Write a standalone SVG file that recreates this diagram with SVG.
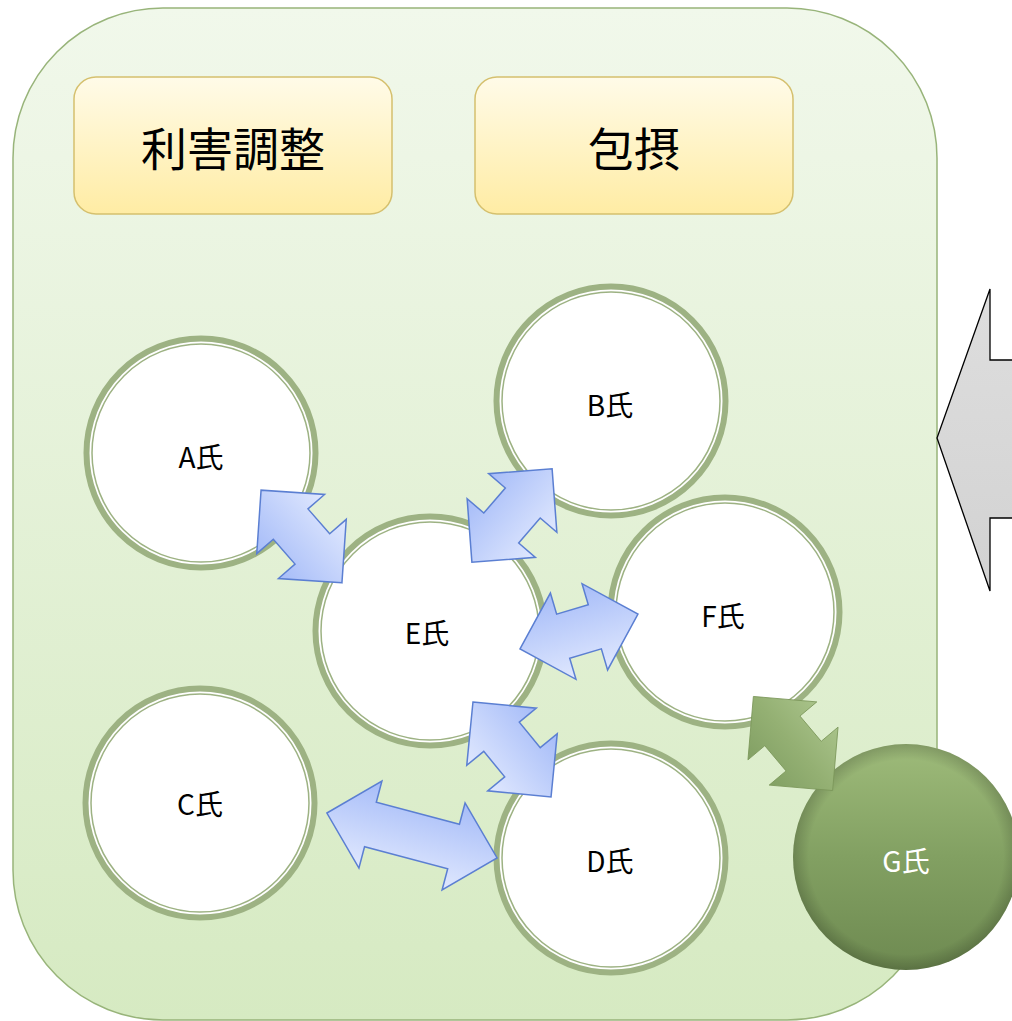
<svg xmlns="http://www.w3.org/2000/svg" width="1012" height="1021" viewBox="0 0 1012 1021">
<style>
.ring{fill:#ffffff;stroke:#9db283;stroke-width:6}
.ring2{fill:none;stroke:#9db283;stroke-width:1.5}
.lbl{font-family:"Noto Sans CJK JP","Noto Sans",sans-serif;font-size:28px;fill:#000;text-anchor:middle}
.ttl{font-family:"Noto Sans CJK JP","Noto Sans",sans-serif;font-size:46px;font-weight:normal;fill:#000;text-anchor:middle}
.box{fill:url(#gBox);stroke:#d5c06e;stroke-width:1.5}
.blue{fill:url(#gBlue);stroke:#5b7fd2;stroke-width:1.5;stroke-linejoin:miter}
</style>
<defs>
<linearGradient id="gBg" x1="0" y1="0" x2="0" y2="1">
<stop offset="0" stop-color="#f1f8eb"/>
<stop offset="1" stop-color="#d6eac2"/>
</linearGradient>
<linearGradient id="gBox" x1="0" y1="0" x2="0" y2="1">
<stop offset="0" stop-color="#fffbe8"/>
<stop offset="1" stop-color="#ffeca4"/>
</linearGradient>
<linearGradient id="gBlue" x1="0" y1="0" x2="0" y2="1">
<stop offset="0" stop-color="#a6bcf8"/>
<stop offset="1" stop-color="#e0e8fe"/>
</linearGradient>
<linearGradient id="gGreenArrow" x1="0" y1="0" x2="0" y2="1">
<stop offset="0" stop-color="#a8c289"/>
<stop offset="0.5" stop-color="#94b073"/>
<stop offset="1" stop-color="#82a064"/>
</linearGradient>
<linearGradient id="gG" x1="0" y1="0" x2="0" y2="1">
<stop offset="0" stop-color="#9ebb7a"/>
<stop offset="0.5" stop-color="#82a062"/>
<stop offset="1" stop-color="#6e8a51"/>
</linearGradient>
<radialGradient id="gGedge" cx="0.5" cy="0.5" r="0.5">
<stop offset="0.86" stop-color="#000" stop-opacity="0"/>
<stop offset="1" stop-color="#000" stop-opacity="0.18"/>
</radialGradient>
<linearGradient id="gGray" x1="0" y1="0" x2="0" y2="1">
<stop offset="0" stop-color="#dedede"/>
<stop offset="1" stop-color="#d2d2d2"/>
</linearGradient>
<polygon id="dbl" points="-61.5,0 -16.5,-45 -16.5,-23 16.5,-23 16.5,-45 61.5,0 16.5,45 16.5,23 -16.5,23 -16.5,45"/>
<polygon id="dblLong" points="-88,0 -43,-45 -43,-23 43,-23 43,-45 88,0 43,45 43,23 -43,23 -43,45"/>
</defs>

<g id="background">
<rect x="13" y="8" width="924" height="1012" rx="150" ry="150" fill="url(#gBg)" stroke="#98b47a" stroke-width="1.5"/>
</g>

<g id="title-rigai">
<rect class="box" x="74" y="77" width="318" height="137" rx="22" ry="22"/>
<text class="ttl" x="233" y="166">利害調整</text>
</g>
<g id="title-housetsu">
<rect class="box" x="475" y="77" width="318" height="137" rx="22" ry="22"/>
<text class="ttl" x="634" y="166">包摂</text>
</g>

<g id="big-arrow">
<polygon points="1020,360 990,360 990,289 937,438 990,591 990,518 1020,518" fill="url(#gGray)" stroke="#000" stroke-width="1.3" stroke-linejoin="miter"/>
</g>

<g id="node-A">
<circle class="ring" cx="201" cy="453" r="114.5"/>
<circle class="ring2" cx="201" cy="453" r="109"/>
<text class="lbl" x="201" y="468">A氏</text>
</g>
<g id="node-B">
<circle class="ring" cx="611" cy="401" r="114.5"/>
<circle class="ring2" cx="611" cy="401" r="109"/>
<text class="lbl" x="610" y="416">B氏</text>
</g>
<g id="node-E">
<circle class="ring" cx="430" cy="631" r="114.5"/>
<circle class="ring2" cx="430" cy="631" r="109"/>
<text class="lbl" x="427" y="644">E氏</text>
</g>
<g id="node-F">
<circle class="ring" cx="725" cy="612" r="114.5"/>
<circle class="ring2" cx="725" cy="612" r="109"/>
<text class="lbl" x="723" y="627">F氏</text>
</g>
<g id="node-C">
<circle class="ring" cx="200" cy="803" r="114.5"/>
<circle class="ring2" cx="200" cy="803" r="109"/>
<text class="lbl" x="200" y="815">C氏</text>
</g>
<g id="node-D">
<circle class="ring" cx="611" cy="858" r="114.5"/>
<circle class="ring2" cx="611" cy="858" r="109"/>
<text class="lbl" x="610" y="872">D氏</text>
</g>
<g id="node-G">
<circle cx="906" cy="857" r="113" fill="url(#gG)"/>
<circle cx="906" cy="857" r="113" fill="url(#gGedge)"/>
<text class="lbl" x="906" y="872" style="fill:#ffffff">G氏</text>
</g>

<g id="connectors">
<use href="#dbl" class="blue" transform="translate(301.5,536.5) rotate(228.9)"/>
<use href="#dbl" class="blue" transform="translate(512,515.5) rotate(-49.3)"/>
<use href="#dbl" class="blue" transform="translate(579,631.5) rotate(-16.5)"/>
<use href="#dbl" class="blue" transform="translate(512,749.5) rotate(50.6)"/>
<use href="#dblLong" class="blue" transform="translate(412,835.5) rotate(14.8)"/>
<use href="#dbl" fill="url(#gGreenArrow)" stroke="#7a9659" stroke-width="0.8" transform="translate(793,743.5) rotate(49.9)"/>
</g>
</svg>
